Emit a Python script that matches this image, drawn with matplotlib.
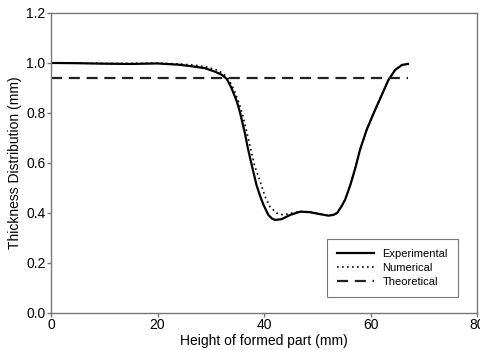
import matplotlib
matplotlib.use("Agg")
import matplotlib.pyplot as plt

plt.rcParams['font.family'] = ['Liberation Sans', 'DejaVu Sans']

# Experimental data
exp_x = [0, 5, 10, 15, 20, 24.0, 27.0, 28.9, 30.8, 32.1, 33.0, 33.9, 34.9, 35.5, 36.4, 37.0, 37.7,
         38.6, 39.3, 39.9, 40.8, 41.5, 42.1, 43.3, 44.9, 46.8, 48.6, 50.5, 52.1, 53.0, 53.7, 54.5,
         55.2, 56.2, 57.2, 58.0, 59.3, 60.8, 62.1, 63.3, 64.6, 65.9, 67.0]
exp_y = [1.000, 0.999, 0.997, 0.996, 0.998, 0.993, 0.985, 0.979, 0.965, 0.952, 0.936, 0.899, 0.845,
         0.800, 0.719, 0.655, 0.590, 0.510, 0.465, 0.432, 0.392, 0.377, 0.372, 0.375, 0.392, 0.405,
         0.403, 0.395, 0.389, 0.392, 0.399, 0.425, 0.452, 0.512, 0.585, 0.652, 0.735, 0.810, 0.872,
         0.930, 0.972, 0.992, 0.996]

# Numerical data
num_x = [0, 5, 10, 15, 20, 24.0, 27.0, 29.0, 31.0, 32.3, 33.3, 34.3, 35.3, 36.0, 37.1, 38.2, 39.2,
         40.2, 41.1, 42.4, 43.6, 45.5, 46.8, 48.6, 50.5, 52.1, 53.0, 53.7, 54.5, 55.2, 56.2, 57.2,
         58.0, 59.3, 60.8, 62.1, 63.3, 64.6, 65.9, 67.0]
num_y = [1.000, 0.999, 0.998, 0.998, 0.999, 0.996, 0.991, 0.985, 0.973, 0.958, 0.936, 0.895, 0.840,
         0.790, 0.692, 0.590, 0.530, 0.465, 0.425, 0.399, 0.392, 0.401, 0.406, 0.404, 0.396, 0.390,
         0.393, 0.400, 0.426, 0.453, 0.513, 0.586, 0.653, 0.736, 0.811, 0.873, 0.931, 0.973, 0.993,
         0.997]

# Theoretical data
theo_x = [0, 67]
theo_y = [0.94, 0.94]

xticks = [0, 20, 40, 60, 80]
yticks = [0.0, 0.2, 0.4, 0.6, 0.8, 1.0, 1.2]

fig = plt.figure(figsize=(4.81, 3.5), dpi=100)
ax = fig.add_axes([0.106, 0.106, 0.886, 0.857])

ax.plot(exp_x, exp_y, color='black', lw=1.6, ls='-', label='Experimental',
        solid_joinstyle='round')
ax.plot(num_x, num_y, color='black', lw=1.2, ls=(0, (1, 2)), label='Numerical')
ax.plot(theo_x, theo_y, color='#222222', lw=1.6, ls=(0, (5, 3)), label='Theoretical')

ax.set_xlim(0, 80)
ax.set_ylim(0, 1.2)
ax.set_xticks(xticks)
ax.set_yticks(yticks)
ax.set_xticklabels([str(t) for t in xticks])
ax.set_yticklabels([f'{t:.1f}' for t in yticks])

for s in ax.spines.values():
    s.set_color('#777777')
    s.set_linewidth(1.0)
ax.tick_params(direction='out', length=3, width=1, color='#777777', labelsize=10, pad=1)

ax.set_xlabel('Height of formed part (mm)', fontsize=10, labelpad=1)
ax.set_ylabel('Thickness Distribution (mm)', fontsize=10, labelpad=3)

leg = ax.legend(loc='lower right', bbox_to_anchor=(0.955, 0.053), borderaxespad=0,
                fontsize=8, frameon=True, fancybox=False, edgecolor='#555555',
                handlelength=3.3, borderpad=0.9, labelspacing=0.35, handletextpad=0.8)
leg.get_frame().set_linewidth(0.8)

fig.savefig('out.png', dpi=100)
